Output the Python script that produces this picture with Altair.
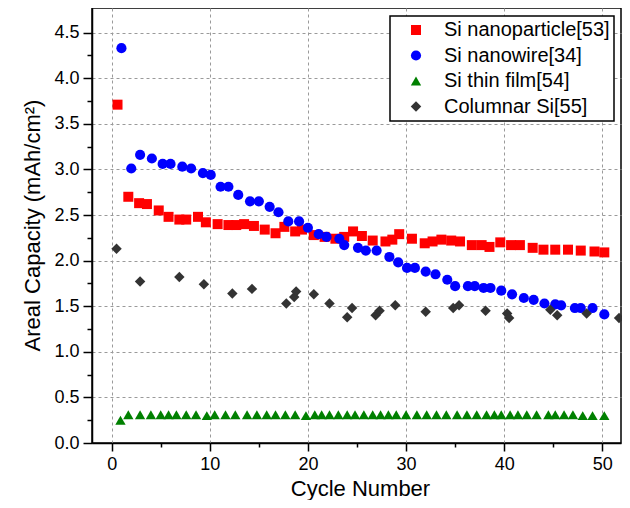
import altair as alt
import pandas as pd

series_names = ["Si nanoparticle[53]", "Si nanowire[34]", "Si thin film[54]", "Columnar Si[55]"]

np_cycle = [0.6, 1.7, 2.8, 3.6, 4.8, 5.8, 6.9, 7.6, 8.8, 9.6, 10.8, 11.9, 12.7, 13.5, 14.5,
            15.6, 16.7, 17.6, 18.7, 19.4, 20.6, 21.7, 22.8, 23.7, 24.6, 25.5, 26.6, 27.9, 28.6, 29.3,
            30.6, 31.9, 32.7, 33.6, 34.6, 35.5, 36.7, 37.7, 38.5, 39.6, 40.7, 41.6, 42.9, 44.0, 45.2,
            46.5, 47.8, 49.2, 50.2]
np_cap = [3.71, 2.70, 2.63, 2.62, 2.55, 2.48, 2.45, 2.45, 2.48, 2.42, 2.40, 2.39, 2.39, 2.40, 2.38,
          2.34, 2.30, 2.37, 2.32, 2.34, 2.28, 2.26, 2.24, 2.26, 2.32, 2.27, 2.22, 2.21, 2.23, 2.29,
          2.24, 2.19, 2.21, 2.23, 2.22, 2.21, 2.17, 2.17, 2.15, 2.20, 2.17, 2.17, 2.14, 2.12, 2.12,
          2.12, 2.11, 2.10, 2.09]

nw_cycle = [1.0, 2.0, 2.9, 4.1, 5.2, 6.0, 7.2, 8.1, 9.3, 10.1, 11.1, 11.9, 12.9, 14.1, 15.0,
            16.1, 17.0, 18.0, 19.1, 20.0, 21.1, 21.9, 23.2, 23.7, 25.1, 25.9, 27.0, 28.3, 29.2, 30.1,
            30.9, 32.0, 33.0, 34.2, 35.0, 36.3, 37.0, 37.9, 38.6, 39.7, 40.8, 42.0, 43.0, 44.1, 45.2,
            45.8, 47.2, 47.8, 49.0, 50.2]
nw_cap = [4.33, 3.01, 3.16, 3.12, 3.06, 3.06, 3.03, 3.01, 2.96, 2.94, 2.81, 2.81, 2.72, 2.65, 2.65,
          2.59, 2.53, 2.43, 2.43, 2.36, 2.29, 2.26, 2.24, 2.17, 2.14, 2.11, 2.11, 2.04, 1.98, 1.92,
          1.92, 1.88, 1.85, 1.79, 1.72, 1.72, 1.72, 1.70, 1.70, 1.67, 1.63, 1.59, 1.57, 1.53, 1.52,
          1.51, 1.48, 1.48, 1.48, 1.41]

tf_cycle = [0.9, 1.7, 2.9, 4.0, 5.0, 5.8, 6.6, 7.6, 8.6, 9.7, 10.5, 11.6, 12.6, 13.8, 14.8,
            15.8, 16.7, 17.7, 18.7, 19.8, 20.7, 21.4, 22.2, 23.1, 24.0, 24.8, 25.7, 26.6, 27.4, 28.2,
            29.0, 30.0, 31.1, 32.1, 33.1, 34.1, 35.2, 36.2, 37.2, 38.2, 39.0, 39.7, 40.6, 41.4, 42.3,
            43.3, 44.5, 45.2, 46.1, 47.0, 48.0, 49.0, 50.2]
tf_cap = [0.25, 0.31, 0.31, 0.31, 0.31, 0.31, 0.31, 0.31, 0.31, 0.30, 0.31, 0.31, 0.31, 0.31, 0.31,
          0.31, 0.31, 0.31, 0.31, 0.30, 0.31, 0.31, 0.31, 0.31, 0.31, 0.31, 0.31, 0.31, 0.31, 0.31,
          0.31, 0.31, 0.31, 0.31, 0.31, 0.31, 0.31, 0.31, 0.31, 0.31, 0.31, 0.31, 0.31, 0.31, 0.31,
          0.31, 0.31, 0.31, 0.31, 0.31, 0.30, 0.30, 0.30]

col_cycle = [0.5, 2.9, 6.9, 9.4, 12.3, 14.3, 17.8, 18.6, 18.8, 20.6, 22.2, 24.0, 24.5, 26.9, 27.3,
             28.9, 32.0, 34.8, 35.4, 38.1, 40.3, 40.5, 44.7, 45.4, 48.4, 51.7]
col_cap = [2.13, 1.77, 1.82, 1.74, 1.64, 1.69, 1.53, 1.60, 1.66, 1.63, 1.53, 1.38, 1.48, 1.40, 1.45,
           1.51, 1.44, 1.48, 1.51, 1.45, 1.42, 1.37, 1.46, 1.40, 1.42, 1.37]

x_ticks = [0, 5, 10, 15, 20, 25, 30, 35, 40, 45, 50]
y_ticks = [0.0, 0.25, 0.5, 0.75, 1.0, 1.25, 1.5, 1.75, 2.0, 2.25, 2.5, 2.75, 3.0, 3.25,
           3.5, 3.75, 4.0, 4.25, 4.5]

colors = ["#ff0000", "#0000ff", "#008000", "#333333"]
shapes = ["square", "circle", "triangle-up", "diamond"]
sizes = [100, 110, 120, 190]

rows = []
for name, xs, ys in zip(series_names,
                        [np_cycle, nw_cycle, tf_cycle, col_cycle],
                        [np_cap, nw_cap, tf_cap, col_cap]):
    for xv, yv in zip(xs, ys):
        rows.append({"series": name, "cycle": xv, "cap": yv})
df = pd.DataFrame(rows)

FONT = "Liberation Sans"
x_major = "datum.value % 10 === 0"
y_major = "abs(datum.value * 2 - round(datum.value * 2)) < 0.001"

PLOT_W = 529
PLOT_H = 435

x_axis = alt.Axis(
    values=x_ticks,
    labelExpr=f"{x_major} ? datum.label : ''",
    tickSize={"condition": {"test": x_major, "value": 8}, "value": 4},
    gridOpacity={"condition": {"test": x_major, "value": 1}, "value": 0},
    grid=True, gridDash=[3, 3], gridColor="#9a9a9a", gridWidth=1,
    domainColor="black", domainWidth=1.5, tickColor="black", tickWidth=1.5,
    labelFont=FONT, labelFontSize=18, labelColor="black", labelPadding=4,
    labelFlush=False, labelOverlap=False,
    titleFont=FONT, titleFontSize=22, titleFontWeight="normal", titleColor="black",
    titleX=268, titleY=52, titleBaseline="alphabetic", titleAlign="center",
)
y_axis = alt.Axis(
    values=y_ticks,
    labelExpr=f"({y_major}) ? format(datum.value, '.1f') : ''",
    tickSize={"condition": {"test": y_major, "value": 9}, "value": 5},
    gridOpacity={"condition": {"test": y_major, "value": 1}, "value": 0},
    grid=True, gridDash=[3, 3], gridColor="#9a9a9a", gridWidth=1,
    domainColor="black", domainWidth=1.5, tickColor="black", tickWidth=1.5,
    labelFont=FONT, labelFontSize=18, labelColor="black", labelPadding=4,
    labelFlush=False, labelOverlap=False,
    titleFont=FONT, titleFontSize=22, titleFontWeight="normal", titleColor="black",
    titleX=-60, titleY=217, titleBaseline="middle", titleAlign="center", titleAngle=270,
)

legend = alt.Legend(
    title=None, orient="none", legendX=298, legendY=8,
    padding=4, symbolOffset=12, labelOffset=18, rowPadding=5.5,
    strokeColor="black", fillColor="white", cornerRadius=0,
    labelFont=FONT, labelFontSize=20, labelColor="black", labelLimit=0,
    symbolSize=100, symbolStrokeWidth=0,
)

chart = alt.Chart(df).mark_point(filled=True, opacity=1, strokeWidth=0).encode(
    x=alt.X("cycle:Q", title="Cycle Number",
            scale=alt.Scale(domain=[-2, 51.9], nice=False, zero=False), axis=x_axis),
    y=alt.Y("cap:Q", title="Areal Capacity (mAh/cm²)",
            scale=alt.Scale(domain=[0, 4.77], nice=False), axis=y_axis),
    color=alt.Color("series:N", scale=alt.Scale(domain=series_names, range=colors), legend=legend),
    shape=alt.Shape("series:N", scale=alt.Scale(domain=series_names, range=shapes), legend=legend),
    size=alt.Size("series:N", scale=alt.Scale(domain=series_names, range=sizes), legend=None),
).properties(
    width=PLOT_W, height=PLOT_H,
    autosize=alt.AutoSizeParams(type="none"),
    padding={"left": 84, "top": 0, "right": 1, "bottom": 57},
).configure_view(
    stroke="black", strokeWidth=1.5
).configure_legend(
    strokeWidth=1.5
)

chart.save("out.html", embed_options={"renderer": "svg", "actions": False})
